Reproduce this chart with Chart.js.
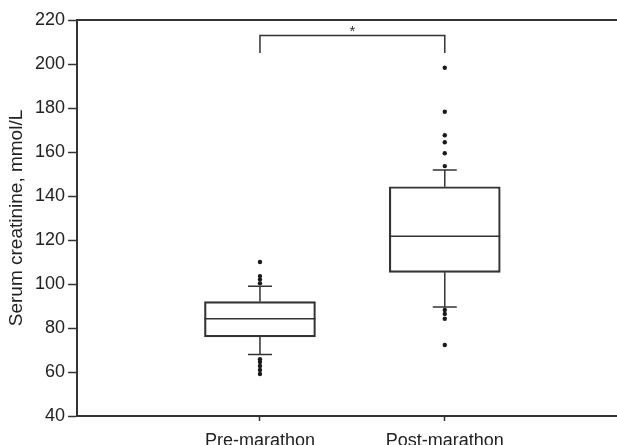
<!DOCTYPE html>
<html>
<head>
<meta charset="utf-8">
<script src="https://cdn.jsdelivr.net/npm/chart.js@4"></script>
<style>
  html, body { margin: 0; padding: 0; background: #fff; overflow: hidden; }
  #wrap { width: 617px; height: 445px; }
</style>
</head>
<body>
<div id="wrap"><canvas id="chart"></canvas></div>
<script>
// groups sit at x = 1 and x = 2 on a linear axis
const groups = ['Pre-marathon', 'Post-marathon'];
const q1 = [76, 105.3];
const q3 = [92, 144.2];
const medians = [84.2, 121.7];
const whiskerLow = [68, 89.5];
const whiskerHigh = [99, 151.8];
const preOutliers = [110, 103.6, 102, 100.3, 65.8, 64.5, 62.7, 60.9, 59.1];
const postOutliers = [198.3, 178.3, 167.6, 164.4, 159.4, 153.6, 88.2, 86.4, 84.2, 72.3];
const yTicks = [40, 60, 80, 100, 120, 140, 160, 180, 200, 220];
const bracket = { from: 1, to: 2, y: 213, legY: 205, label: '*' };

const ink = '#333';
const fontFamily = '"Liberation Sans", Arial, sans-serif';

// whiskers, caps, medians, frame lines and significance bracket
const boxExtras = {
  id: 'boxExtras',
  afterDatasetsDraw(chart) {
    const { ctx, chartArea, scales: { x, y } } = chart;
    const boxes = chart.getDatasetMeta(0).data;
    ctx.save();
    ctx.strokeStyle = ink;
    ctx.lineWidth = 1.5;
    boxes.forEach((bar, i) => {
      const cx = bar.x;
      const half = bar.width / 2;
      const capHalf = 12;
      const yMed = y.getPixelForValue(medians[i]);
      const yQ1 = y.getPixelForValue(q1[i]);
      const yQ3 = y.getPixelForValue(q3[i]);
      const yLo = y.getPixelForValue(whiskerLow[i]);
      const yHi = y.getPixelForValue(whiskerHigh[i]);
      ctx.beginPath();
      ctx.moveTo(cx - half, yMed); ctx.lineTo(cx + half, yMed);
      ctx.moveTo(cx, yQ3); ctx.lineTo(cx, yHi);
      ctx.moveTo(cx - capHalf, yHi); ctx.lineTo(cx + capHalf, yHi);
      ctx.moveTo(cx, yQ1); ctx.lineTo(cx, yLo);
      ctx.moveTo(cx - capHalf, yLo); ctx.lineTo(cx + capHalf, yLo);
      ctx.stroke();
    });

    // top and bottom frame lines run to the right edge
    ctx.lineWidth = 2;
    ctx.beginPath();
    ctx.moveTo(chartArea.left, chartArea.top);
    ctx.lineTo(chart.width, chartArea.top);
    ctx.moveTo(chartArea.right - 1, chartArea.bottom);
    ctx.lineTo(chart.width, chartArea.bottom);
    ctx.stroke();

    // bracket with star
    const bx1 = x.getPixelForValue(bracket.from);
    const bx2 = x.getPixelForValue(bracket.to);
    const by = y.getPixelForValue(bracket.y);
    const bl = y.getPixelForValue(bracket.legY);
    ctx.lineWidth = 1.5;
    ctx.beginPath();
    ctx.moveTo(bx1, bl); ctx.lineTo(bx1, by); ctx.lineTo(bx2, by); ctx.lineTo(bx2, bl);
    ctx.stroke();
    ctx.fillStyle = ink;
    ctx.font = '15px ' + fontFamily;
    ctx.textAlign = 'center';
    ctx.textBaseline = 'bottom';
    ctx.fillText(bracket.label, (bx1 + bx2) / 2, by + 4);
    ctx.restore();
  }
};

const outlierStyle = {
  type: 'line',
  showLine: false,
  pointRadius: 2.2,
  pointHoverRadius: 2.2,
  pointBackgroundColor: '#1a1a1a',
  pointBorderWidth: 0
};

new Chart(document.getElementById('chart'), {
  type: 'bar',
  data: {
    datasets: [
      {
        label: 'box',
        data: groups.map((g, i) => ({ x: i + 1, y: [q1[i], q3[i]] })),
        backgroundColor: 'rgba(255,255,255,0)',
        borderColor: ink,
        borderWidth: 1.5,
        borderSkipped: false,
        barThickness: 111
      },
      { ...outlierStyle, label: 'pre', data: preOutliers.map(v => ({ x: 1, y: v })) },
      { ...outlierStyle, label: 'post', data: postOutliers.map(v => ({ x: 2, y: v })) }
    ]
  },
  options: {
    responsive: true,
    maintainAspectRatio: false,
    animation: false,
    layout: { padding: { top: 20, right: 0, bottom: 0, left: 0 } },
    plugins: {
      legend: { display: false },
      tooltip: { enabled: false }
    },
    scales: {
      x: {
        type: 'linear',
        offset: false,
        min: 0.01,
        max: 2.92,
        afterBuildTicks: (axis) => { axis.ticks = groups.map((g, i) => ({ value: i + 1 })); },
        afterFit: (axis) => { axis.height = 29; },
        border: { display: true, color: ink, width: 2 },
        grid: { offset: false, drawOnChartArea: false, drawTicks: true, tickLength: 5, tickColor: ink, tickWidth: 1.5 },
        ticks: {
          color: '#222',
          padding: 9,
          maxRotation: 0,
          font: { family: fontFamily, size: 18 },
          callback: (v) => groups[v - 1] || ''
        }
      },
      y: {
        min: 40,
        max: 220,
        afterBuildTicks: (axis) => { axis.ticks = yTicks.map(v => ({ value: v })); },
        afterFit: (axis) => { axis.width = 77; },
        border: { display: true, color: ink, width: 2 },
        grid: { drawOnChartArea: false, drawTicks: true, tickLength: 9, tickColor: ink, tickWidth: 1.5 },
        ticks: {
          color: '#222',
          padding: 3,
          font: { family: fontFamily, size: 18 }
        },
        title: {
          display: true,
          text: 'Serum creatinine, mmol/L',
          color: '#222',
          padding: { top: 5, bottom: 0 },
          font: { family: fontFamily, size: 19 }
        }
      }
    }
  },
  plugins: [boxExtras]
});
</script>
</body>
</html>
